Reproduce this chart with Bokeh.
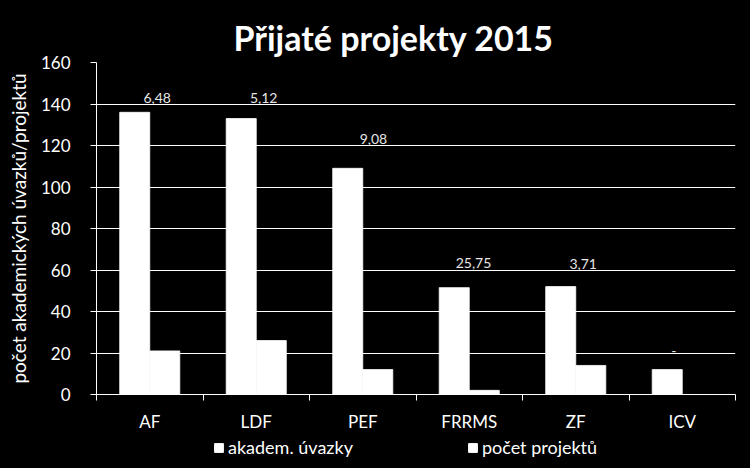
from bokeh.plotting import figure
from bokeh.layouts import column
from bokeh.models import Range1d, FixedTicker, Legend, LegendItem, ColumnDataSource
from bokeh.core.properties import value
from bokeh.embed import file_html
from bokeh.resources import INLINE

# ---- data ----
categories = ["AF", "LDF", "PEF", "FRRMS", "ZF", "ICV"]
akadem_uvazky = [136, 133, 109, 51.5, 52, 12]
pocet_projektu = [21, 26, 12, 2, 14, 0]
pomer_labels = ["6,48", "5,12", "9,08", "25,75", "3,71", "-"]
y_ticks = [0, 20, 40, 60, 80, 100, 120, 140, 160]
series_names = ["akadem. úvazky", "počet projektů"]

# ---- layout of the ratio labels (data units) ----
label_heights = [143, 143, 123, 63.5, 63, 21]
label_shift = [0.07, 0.07, 0.10, 0.04, 0.07, -0.08]

FONT = "Lato"
bar_w = 0.282
centers = [i + 0.5 for i in range(len(categories))]

src = ColumnDataSource(dict(
    x1=[c - bar_w / 2 for c in centers],
    x2=[c + bar_w / 2 for c in centers],
    a=akadem_uvazky,
    b=pocet_projektu,
    lx=[c + s for c, s in zip(centers, label_shift)],
    ly=label_heights,
    lt=pomer_labels,
))

p = figure(width=750, height=434, output_backend="svg", toolbar_location=None,
           x_range=Range1d(0, len(categories)), y_range=Range1d(0, 160),
           background_fill_color="black", border_fill_color="black",
           outline_line_color=None,
           min_border_left=96, min_border_right=15, min_border_top=62, min_border_bottom=40,
           styles={"background-color": "black"})

p.vbar(x="x1", top="a", width=bar_w, source=src, fill_color="white",
       line_color="white", line_width=0.8)
p.vbar(x="x2", top="b", width=bar_w, source=src, fill_color="white",
       line_color="white", line_width=0.8)

p.text(x="lx", y="ly", text="lt", source=src, text_align="center", text_baseline="middle",
       text_color="#e6e6e6", text_font=value(FONT), text_font_size="14px")

# title
p.title.text = "Přijaté projekty 2015"
p.title.text_color = "white"
p.title.text_font = FONT
p.title.text_font_size = "34px"
p.title.text_font_style = "bold"
p.title.align = "left"
p.title.offset = 137

# axes
xa = p.xaxis[0]
xa.ticker = FixedTicker(ticks=centers, minor_ticks=list(range(len(categories) + 1)))
xa.major_label_overrides = {c: cat for c, cat in zip(centers, categories)}
xa.major_tick_line_color = None
xa.minor_tick_line_color = "white"
xa.minor_tick_out = 6
xa.minor_tick_in = 0
xa.axis_line_color = "white"
xa.major_label_text_color = "white"
xa.major_label_text_font = FONT
xa.major_label_text_font_size = "17px"
xa.major_label_standoff = 10

ya = p.yaxis[0]
ya.ticker = FixedTicker(ticks=y_ticks)
ya.axis_line_color = "white"
ya.major_tick_line_color = "white"
ya.major_tick_out = 6
ya.major_tick_in = 0
ya.minor_tick_line_color = None
ya.major_label_text_color = "white"
ya.major_label_text_font = FONT
ya.major_label_text_font_size = "17px"
ya.major_label_standoff = 20
ya.axis_label = "počet akademických úvazků/projektů"
ya.axis_label_text_color = "white"
ya.axis_label_text_font = FONT
ya.axis_label_text_font_size = "19px"
ya.axis_label_text_font_style = "normal"
ya.axis_label_standoff = 8

p.xgrid.grid_line_color = None
p.ygrid.ticker = FixedTicker(ticks=y_ticks)
p.ygrid.grid_line_color = "white"
p.ygrid.grid_line_width = 1

# ---- legend strip (dummy renderers lie outside the visible range) ----
lg = figure(width=750, height=34, output_backend="svg", toolbar_location=None,
            x_range=Range1d(0, 10), y_range=Range1d(0, 10),
            x_axis_type=None, y_axis_type=None,
            background_fill_color="black", border_fill_color="black",
            outline_line_color=None, min_border=0,
            styles={"background-color": "black"})
lg.grid.visible = False
dummy = ColumnDataSource(dict(x=[-100], top=[-100]))
d1 = lg.vbar(x="x", top="top", width=1, source=dummy, fill_color="white", line_color="white")
d2 = lg.vbar(x="x", top="top", width=1, source=dummy, fill_color="white", line_color="white")
legend = Legend(items=[LegendItem(label=series_names[0], renderers=[d1]),
                       LegendItem(label=series_names[1], renderers=[d2])],
                orientation="horizontal", location=(117, 10),
                background_fill_alpha=0, border_line_color=None,
                label_text_color="white", label_text_font=FONT, label_text_font_size="18px",
                glyph_width=11, glyph_height=11, label_standoff=4, spacing=114,
                label_height=18, padding=0, margin=0)
lg.add_layout(legend, "center")

layout = column(p, lg, spacing=0, styles={"background-color": "black"})
open("out.html", "w").write(file_html(layout, INLINE))
